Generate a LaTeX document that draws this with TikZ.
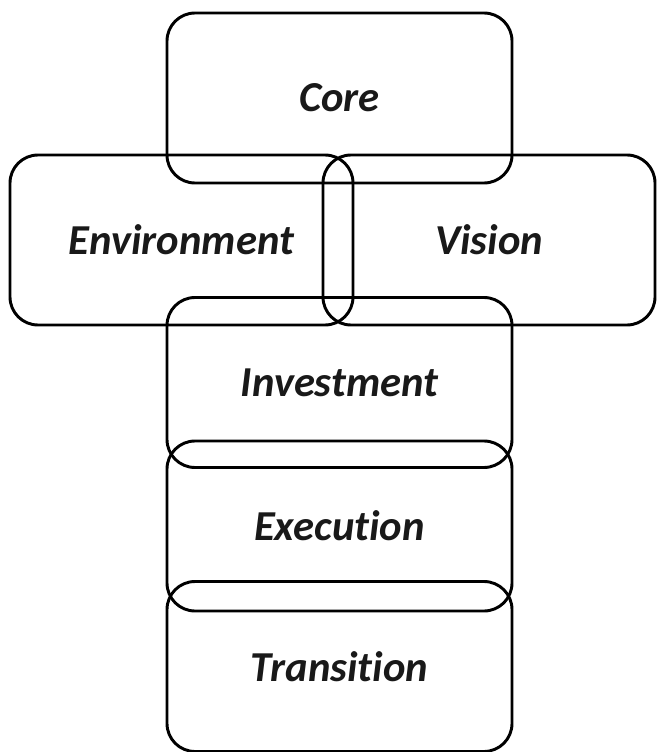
\documentclass[tikz,border=0pt]{standalone}
\usepackage{fontspec}
\setmainfont{Carlito}[Ligatures=NoCommon]
\begin{document}
\begin{tikzpicture}[x=0.75pt,y=-0.75pt,
  part/.style={draw=black, line width=2.2pt, rounded corners=21pt,
    minimum width=#1, minimum height=127.5pt, inner sep=0pt,
    font=\fontsize{32}{38}\selectfont\bfseries\itshape, text=black!90},
  part/.default=258.75pt]
\useasboundingbox (0,0) rectangle (657,752);
% top block
\node[part] (core) at (339.5,98) {Core};
% side blocks, overlapping in the middle
\node[part=257.25pt] (env) at (181.5,240) {Environment};
\node[part=249pt] (vision) at (489,240) {Vision};
% stacked lower blocks
\node[part] (invest) at (339.5,382.5) {Investment};
\node[part] (exec) at (339.5,526) {Execution};
\node[part] (trans) at (339.5,666.5) {Transition};
\end{tikzpicture}
\end{document}
